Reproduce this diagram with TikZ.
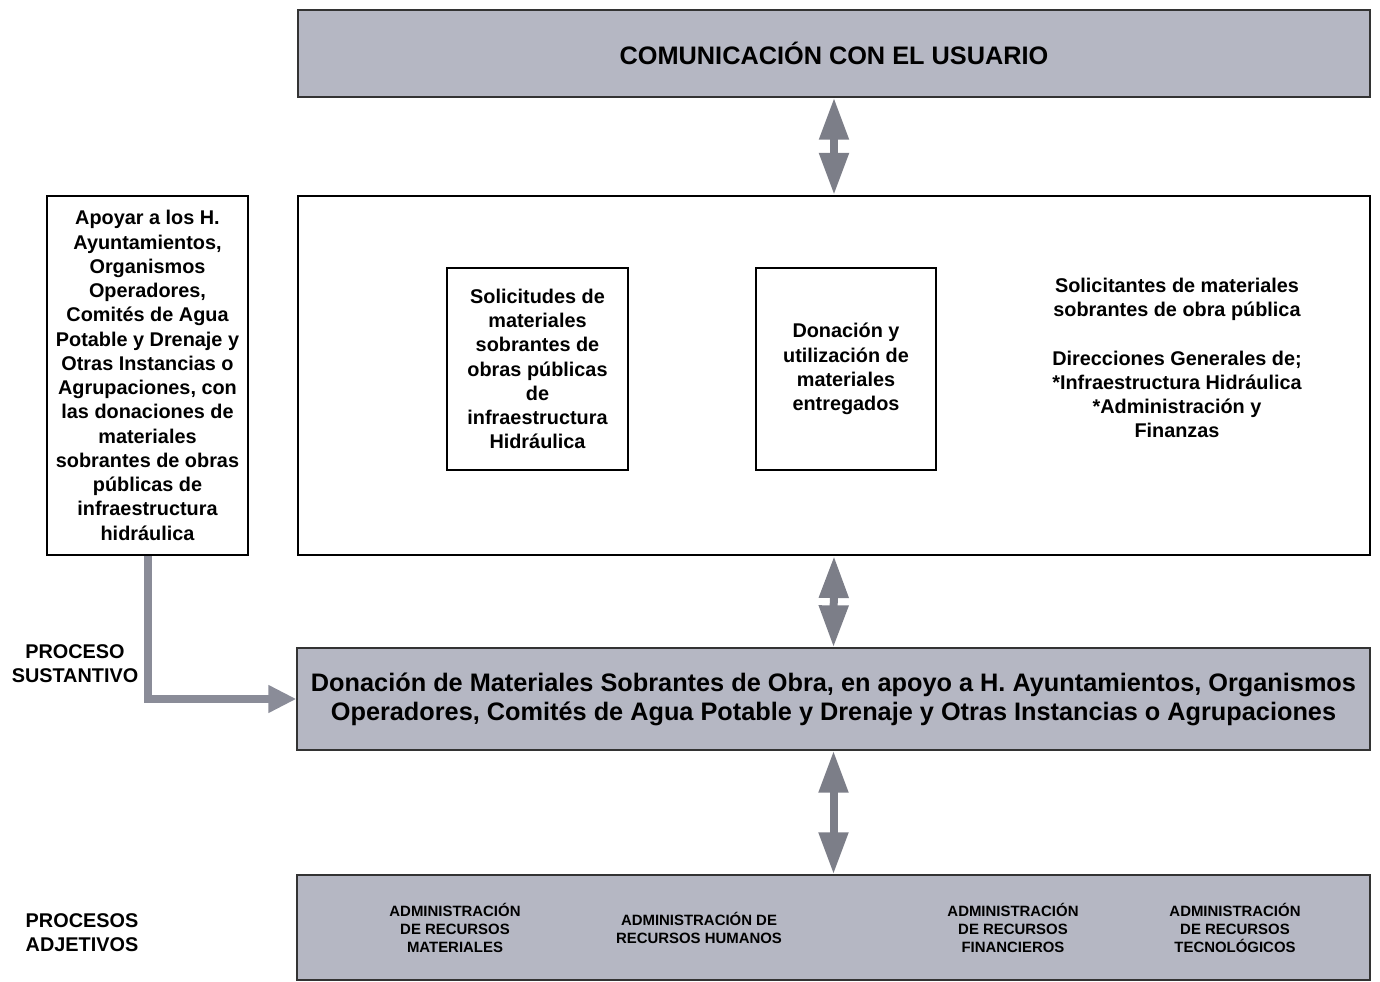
\documentclass[tikz,border=0pt]{standalone}
\usepackage{fontspec}
\setmainfont{Liberation Sans}
\usetikzlibrary{arrows.meta}
\definecolor{boxgray}{RGB}{181,183,195}
\definecolor{arrowgray}{RGB}{124,126,136}
\definecolor{linegray}{RGB}{138,140,152}
\begin{document}
\begin{tikzpicture}[x=0.02cm,y=-0.02cm,
  graybox/.style={draw=black!80,line width=0.8pt,fill=boxgray,inner sep=0pt},
  whitebox/.style={draw=black,line width=1.2pt,fill=white,inner sep=0pt},
  txt/.style={font=\fontsize{11.3}{13.8}\selectfont\bfseries,align=center},
  small/.style={font=\fontsize{8.5}{10.2}\selectfont\bfseries,align=center},
  dbl/.style={arrowgray,line width=0.16cm,{Triangle[width=0.56cm,length=0.84cm]}-{Triangle[width=0.56cm,length=0.84cm]}},
  elbow/.style={linegray,line width=0.16cm,-{Triangle[width=0.52cm,length=0.56cm]}}]
\useasboundingbox (0,0) rectangle (1380,982);
% top
\node[graybox,minimum width=21.44cm,minimum height=1.74cm,font=\fontsize{14.4}{17}\selectfont\bfseries] (usuario) at (834,53.5) {COMUNICACIÓN CON EL USUARIO};
% middle
\node[whitebox,minimum width=21.44cm,minimum height=7.18cm] (centro) at (834,375.5) {};
\node[whitebox,minimum width=4.02cm,minimum height=7.18cm,txt] (apoyo) at (147.5,375.5) {Apoyar a los H.\\Ayuntamientos,\\Organismos\\Operadores,\\Comités de Agua\\Potable y Drenaje y\\Otras Instancias o\\Agrupaciones, con\\las donaciones de\\materiales\\sobrantes de obras\\públicas de\\infraestructura\\hidráulica};
\node[whitebox,line width=1.4pt,minimum width=3.62cm,minimum height=4.04cm,txt] (solicitudes) at (537.5,369) {Solicitudes de\\materiales\\sobrantes de\\obras públicas\\de\\infraestructura\\Hidráulica};
\node[whitebox,line width=1.4pt,minimum width=3.6cm,minimum height=4.04cm,txt] (donacion) at (846,369) {Donación y\\utilización de\\materiales\\entregados};
\node[txt] (solicitantes) at (1177,358) {Solicitantes de materiales\\sobrantes de obra pública\\[13.8pt]Direcciones Generales de;\\{*}Infraestructura Hidráulica\\{*}Administración y\\Finanzas};
% proceso sustantivo
\node[graybox,minimum width=21.46cm,minimum height=2.04cm,font=\fontsize{14.4}{16.5}\selectfont\bfseries,align=center] (sustantivo) at (833.5,699) {Donación de Materiales Sobrantes de Obra, en apoyo a H. Ayuntamientos, Organismos\\Operadores, Comités de Agua Potable y Drenaje y Otras Instancias o Agrupaciones};
\node[txt] (lblsust) at (75,664) {PROCESO\\SUSTANTIVO};
% procesos adjetivos
\node[graybox,minimum width=21.46cm,minimum height=2.1cm] (adjetivos) at (833.5,927.5) {};
\node[small] (materiales) at (455,928) {ADMINISTRACIÓN\\DE RECURSOS\\MATERIALES};
\node[small] (humanos) at (699,928) {ADMINISTRACIÓN DE\\RECURSOS HUMANOS};
\node[small] (financieros) at (1013,928) {ADMINISTRACIÓN\\DE RECURSOS\\FINANCIEROS};
\node[small] (tecnologicos) at (1235,928) {ADMINISTRACIÓN\\DE RECURSOS\\TECNOLÓGICOS};
\node[txt] (lbladj) at (82,933) {PROCESOS\\ADJETIVOS};
% arrows
\draw[dbl] (usuario.south) -- (centro.north);
\draw[dbl] (centro.south) -- (sustantivo.north);
\draw[dbl] (sustantivo.south) -- (adjetivos.north);
\draw[elbow] (apoyo.south) |- (sustantivo.west);
\end{tikzpicture}
\end{document}
